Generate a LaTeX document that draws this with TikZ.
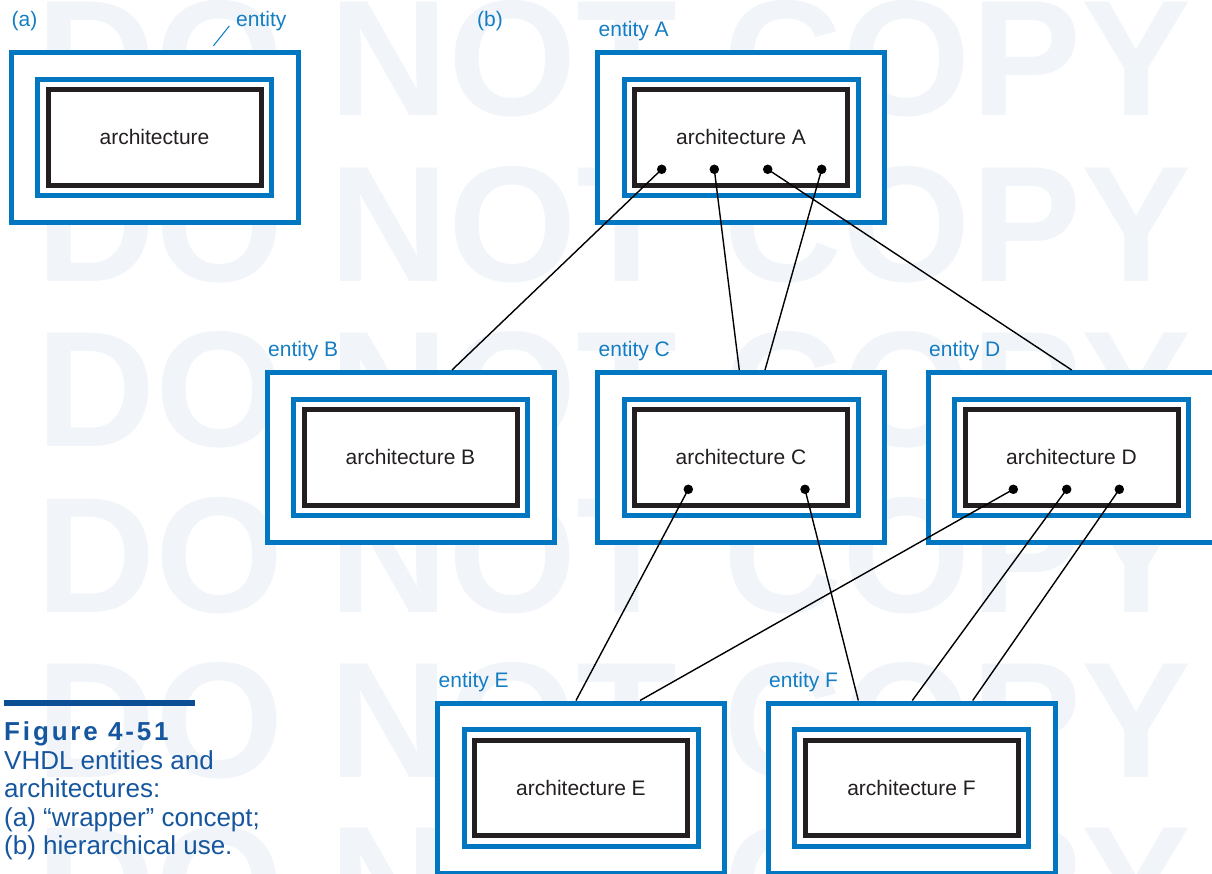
\documentclass[tikz,border=0pt]{standalone}
\usepackage{fontspec}
\setmainfont{Liberation Sans}
\newfontfamily\figfont[LetterSpace=11]{Liberation Sans}
\definecolor{eblue}{RGB}{0,119,192}
\definecolor{lblue}{RGB}{20,125,195}
\definecolor{ablack}{RGB}{35,31,32}
\definecolor{capblue}{RGB}{22,86,158}
\definecolor{barblue}{RGB}{12,78,148}
\definecolor{wm}{RGB}{241,245,250}
\tikzset{
  outerbox/.style={draw=eblue, line width=5pt, fill=white, minimum width=287pt, minimum height=170pt, inner sep=0pt},
  midbox/.style={draw=eblue, line width=5pt, minimum width=234pt, minimum height=116.5pt, inner sep=0pt},
  archbox/.style={draw=ablack, line width=5pt, minimum width=213pt, minimum height=95.5pt, inner sep=0pt, text=ablack, font=\fontsize{21}{25}\selectfont},
  elabel/.style={anchor=base west, inner sep=0pt, text=lblue, font=\fontsize{21}{25}\selectfont},
  pdot/.style={circle, fill=black, minimum size=9.5pt, inner sep=0pt},
  wire/.style={draw=black, line width=1.4pt},
  wmark/.style={anchor=base west, inner sep=0pt, text=wm, font=\bfseries\fontsize{165}{165}\selectfont},
  captext/.style={anchor=base west, inner sep=0pt, text=capblue, font=\fontsize{26}{30}\selectfont},
}
\newcommand{\entitybox}[4]{%
  \node[outerbox] (#1o) at ({#2+143.5},{#3+85}) {};
  \node[midbox] (#1m) at ({#2+143.5},{#3+84.75}) {};
  \node[archbox] (#1) at ({#2+143.5},{#3+84.75}) {#4};
}
\begin{document}
\begin{tikzpicture}[x=1pt,y=-1pt]
\useasboundingbox (0,0) rectangle (1212,873);
\clip (0,0) rectangle (1212,873);
% watermark
\foreach \i/\yy in {1/115,2/281,3/446,4/612,5/777,6/941}{
  \node[wmark] (wm\i) at (36,\yy) {DO NOT COPY};
}
% (a)
\entitybox{X}{11}{52.5}{architecture}
\node[elabel] (lbla) at (11.5,26) {(a)};
\node[elabel] (lblent) at (236,26) {entity};
\coordinate (leadA) at (213.3,46);
\coordinate (leadB) at (229.3,26);
\draw[draw=eblue, line width=1pt] (leadA) -- (leadB);
% (b)
\node[elabel] (lblb) at (477,26) {(b)};
\entitybox{A}{597.5}{52.5}{architecture A}
\entitybox{B}{267}{372.5}{architecture B}
\entitybox{C}{597.5}{372.5}{architecture C}
\entitybox{D}{928}{372.5}{architecture D}
\entitybox{E}{437.5}{703}{architecture E}
\entitybox{F}{768}{703}{architecture F}
\node[elabel] (lA) at (598.5,36.5) {entity A};
\node[elabel] (lB) at (268,356.5) {entity B};
\node[elabel] (lC) at (598.5,356.5) {entity C};
\node[elabel] (lD) at (929,356.5) {entity D};
\node[elabel] (lE) at (438.5,687) {entity E};
\node[elabel] (lF) at (769,687) {entity F};
% dots
\node[pdot] (A1) at (661.7,169.3) {};
\node[pdot] (A2) at (714.3,169.3) {};
\node[pdot] (A3) at (767.7,169.3) {};
\node[pdot] (A4) at (821.7,169.3) {};
\node[pdot] (C1) at (688.3,489.3) {};
\node[pdot] (C2) at (805,489.3) {};
\node[pdot] (D1) at (1013.3,489.3) {};
\node[pdot] (D2) at (1066.7,489.3) {};
\node[pdot] (D3) at (1119.3,489.3) {};
% entry points on entity tops
\coordinate (tB) at (452,370);
\coordinate (tC1) at (739.3,370);
\coordinate (tC2) at (765,370);
\coordinate (tD) at (1071.7,370);
\coordinate (tE1) at (576,700.5);
\coordinate (tE2) at (640,700.5);
\coordinate (tF1) at (858.3,700.5);
\coordinate (tF2) at (912.3,700.5);
\coordinate (tF3) at (972.7,700.5);
\draw[wire] (A1.center) -- (tB);
\draw[wire] (A2.center) -- (tC1);
\draw[wire] (A4.center) -- (tC2);
\draw[wire] (A3.center) -- (tD);
\draw[wire] (C1.center) -- (tE1);
\draw[wire] (D1.center) -- (tE2);
\draw[wire] (C2.center) -- (tF1);
\draw[wire] (D2.center) -- (tF2);
\draw[wire] (D3.center) -- (tF3);
% caption
\fill[barblue] (4,700) rectangle (195,706);
\node[captext, font=\figfont\bfseries\fontsize{26}{30}\selectfont] (cap0) at (4,740) {Figure 4-51};
\node[captext] (cap1) at (4,769) {VHDL entities and};
\node[captext] (cap2) at (4,797.5) {architectures:};
\node[captext] (cap3) at (4,826) {(a) “wrapper” concept;};
\node[captext] (cap4) at (4,854.5) {(b) hierarchical use.};
\end{tikzpicture}
\end{document}
